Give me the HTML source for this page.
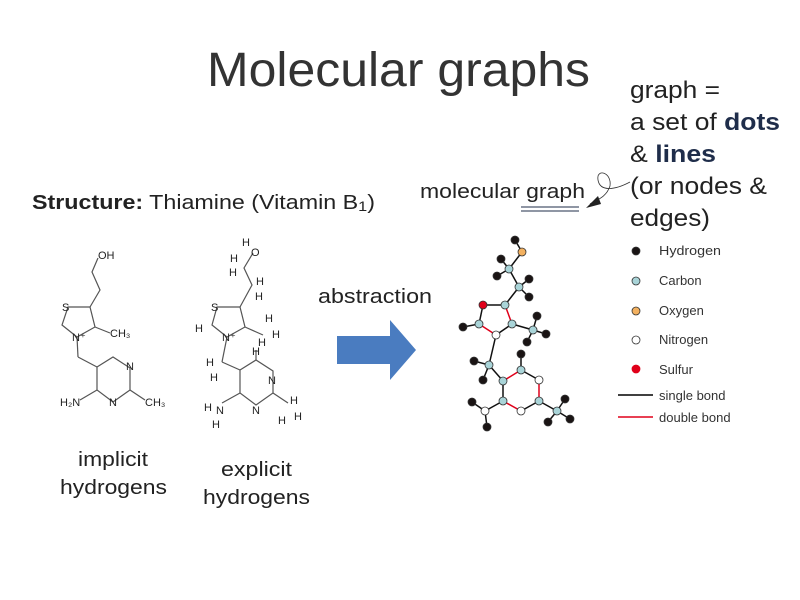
<!DOCTYPE html>
<html><head><style>
body{margin:0;background:#fff;}
svg{display:block;font-family:"Liberation Sans",sans-serif;}
</style></head><body>
<svg width="800" height="600" viewBox="0 0 800 600">
<text x="207" y="86" font-size="48" textLength="383" lengthAdjust="spacingAndGlyphs" fill="#333">Molecular graphs</text>
<g font-size="24" fill="#222">
<text x="630" y="98" textLength="90" lengthAdjust="spacingAndGlyphs">graph =</text>
<text x="630" y="130" textLength="150" lengthAdjust="spacingAndGlyphs">a set of <tspan font-weight="bold" fill="#1f2d4a">dots</tspan></text>
<text x="630" y="162" textLength="86" lengthAdjust="spacingAndGlyphs">&amp; <tspan font-weight="bold" fill="#1f2d4a">lines</tspan></text>
<text x="630" y="194" textLength="137" lengthAdjust="spacingAndGlyphs">(or nodes &amp;</text>
<text x="630" y="226" textLength="80" lengthAdjust="spacingAndGlyphs">edges)</text>
</g>
<text x="32" y="209" font-size="20" fill="#222" textLength="343" lengthAdjust="spacingAndGlyphs"><tspan font-weight="bold">Structure:</tspan> Thiamine (Vitamin B<tspan font-size="14" dy="2">1</tspan><tspan dy="-2">)</tspan></text>
<text x="420" y="198" font-size="20" fill="#222" textLength="165" lengthAdjust="spacingAndGlyphs">molecular graph</text>
<line x1="521" y1="207" x2="579" y2="207" stroke="#1f2d4a" stroke-width="1"/>
<line x1="521" y1="211" x2="579" y2="211" stroke="#1f2d4a" stroke-width="1"/>
<path d="M630 182 C615 190 600 192 598 180 C596 168 612 172 610 186 C606 198 596 200 590 204" fill="none" stroke="#333" stroke-width="0.8"/>
<polygon points="586,208 598,196 601,204" fill="#222"/>
<text x="318" y="303" font-size="20" fill="#222" textLength="114" lengthAdjust="spacingAndGlyphs">abstraction</text>
<polygon points="337,336 390,336 390,320 416,350 390,380 390,364 337,364" fill="#4a7cc0"/>
<g font-size="20" fill="#222">
<text x="78" y="466" textLength="70" lengthAdjust="spacingAndGlyphs">implicit</text><text x="60" y="494" textLength="107" lengthAdjust="spacingAndGlyphs">hydrogens</text>
<text x="221" y="476" textLength="71" lengthAdjust="spacingAndGlyphs">explicit</text><text x="203" y="504" textLength="107" lengthAdjust="spacingAndGlyphs">hydrogens</text>
</g>
<!-- implicit structure -->
<g stroke="#555" stroke-width="1.2" fill="none">
<polyline points="98,258 92,272 100,290 90,307"/>
<polygon points="68,307 90,307 95,327 77,337 62,325"/>
<line x1="95" y1="327" x2="110" y2="333"/>
<line x1="77" y1="337" x2="78" y2="357"/>
<line x1="78" y1="357" x2="97" y2="367"/>
<polygon points="97,367 113,357 130,368 130,390 113,402 97,390"/>
<line x1="97" y1="390" x2="80" y2="400"/>
<line x1="130" y1="390" x2="145" y2="400"/>
</g>
<g font-size="11" fill="#222">
<text x="98" y="259">OH</text><text x="62" y="311">S</text><text x="110" y="337">CH₃</text>
<text x="72" y="341">N⁺</text><text x="126" y="370">N</text><text x="109" y="406">N</text>
<text x="60" y="406">H₂N</text><text x="145" y="406">CH₃</text>
</g>
<!-- explicit structure -->
<g stroke="#555" stroke-width="1.2" fill="none">
<polyline points="253,253 244,268 252,285 240,307"/>
<polygon points="217,307 240,307 245,327 227,337 212,325"/>
<line x1="245" y1="327" x2="263" y2="335"/>
<line x1="227" y1="337" x2="222" y2="362"/>
<line x1="222" y1="362" x2="240" y2="370"/>
<polygon points="240,370 256,360 273,371 273,393 256,405 240,393"/>
<line x1="240" y1="393" x2="222" y2="403"/>
<line x1="273" y1="393" x2="288" y2="403"/>
<line x1="256" y1="360" x2="256" y2="350"/>
</g>
<g font-size="11" fill="#222">
<text x="242" y="246">H</text><text x="251" y="256">O</text><text x="230" y="262">H</text><text x="229" y="276">H</text>
<text x="256" y="285">H</text><text x="255" y="300">H</text><text x="211" y="311">S</text>
<text x="195" y="332">H</text><text x="222" y="341">N⁺</text><text x="265" y="322">H</text><text x="272" y="338">H</text><text x="258" y="346">H</text>
<text x="206" y="366">H</text><text x="210" y="381">H</text><text x="252" y="355">H</text>
<text x="268" y="384">N</text><text x="252" y="414">N</text><text x="204" y="411">H</text><text x="216" y="414">N</text><text x="212" y="428">H</text>
<text x="290" y="404">H</text><text x="294" y="420">H</text><text x="278" y="424">H</text>
</g>
<!-- molecular graph -->
<g stroke="#111" stroke-width="1.5">
<line x1="515" y1="240" x2="522" y2="252"/><line x1="522" y1="252" x2="509" y2="269"/>
<line x1="509" y1="269" x2="501" y2="259"/><line x1="509" y1="269" x2="497" y2="276"/>
<line x1="509" y1="269" x2="519" y2="287"/><line x1="519" y1="287" x2="529" y2="279"/><line x1="519" y1="287" x2="529" y2="297"/>
<line x1="519" y1="287" x2="505" y2="305"/><line x1="483" y1="305" x2="505" y2="305"/>
<line x1="483" y1="305" x2="479" y2="324"/><line x1="479" y1="324" x2="463" y2="327"/>
<line x1="512" y1="324" x2="496" y2="335"/><line x1="512" y1="324" x2="533" y2="330"/>
<line x1="533" y1="330" x2="537" y2="316"/><line x1="533" y1="330" x2="546" y2="334"/><line x1="533" y1="330" x2="527" y2="342"/>
<line x1="496" y1="335" x2="489" y2="365"/><line x1="489" y1="365" x2="474" y2="361"/><line x1="489" y1="365" x2="483" y2="380"/>
<line x1="489" y1="365" x2="503" y2="381"/><line x1="503" y1="381" x2="503" y2="401"/>
<line x1="521" y1="370" x2="539" y2="380"/><line x1="521" y1="370" x2="521" y2="354"/>
<line x1="539" y1="401" x2="521" y2="411"/><line x1="539" y1="401" x2="557" y2="411"/>
<line x1="557" y1="411" x2="565" y2="399"/><line x1="557" y1="411" x2="570" y2="419"/><line x1="557" y1="411" x2="548" y2="422"/>
<line x1="503" y1="401" x2="485" y2="411"/><line x1="485" y1="411" x2="472" y2="402"/><line x1="485" y1="411" x2="487" y2="427"/>
</g>
<g stroke="#e0001a" stroke-width="1.5">
<line x1="505" y1="305" x2="512" y2="324"/><line x1="479" y1="324" x2="496" y2="335"/>
<line x1="503" y1="381" x2="521" y2="370"/><line x1="539" y1="380" x2="539" y2="401"/>
<line x1="503" y1="401" x2="521" y2="411"/>
</g>
<g stroke="#333" stroke-width="0.8">
<g fill="#1a1414">
<circle cx="515" cy="240" r="4"/><circle cx="501" cy="259" r="4"/><circle cx="497" cy="276" r="4"/>
<circle cx="529" cy="279" r="4"/><circle cx="529" cy="297" r="4"/><circle cx="463" cy="327" r="4"/>
<circle cx="537" cy="316" r="4"/><circle cx="546" cy="334" r="4"/><circle cx="527" cy="342" r="4"/>
<circle cx="474" cy="361" r="4"/><circle cx="483" cy="380" r="4"/><circle cx="521" cy="354" r="4"/>
<circle cx="565" cy="399" r="4"/><circle cx="570" cy="419" r="4"/><circle cx="548" cy="422" r="4"/>
<circle cx="472" cy="402" r="4"/><circle cx="487" cy="427" r="4"/>
</g>
<g fill="#a9d4d8">
<circle cx="509" cy="269" r="4"/><circle cx="519" cy="287" r="4"/><circle cx="505" cy="305" r="4"/>
<circle cx="479" cy="324" r="4"/><circle cx="512" cy="324" r="4"/><circle cx="533" cy="330" r="4"/>
<circle cx="489" cy="365" r="4"/><circle cx="503" cy="381" r="4"/><circle cx="521" cy="370" r="4"/>
<circle cx="539" cy="401" r="4"/><circle cx="503" cy="401" r="4"/><circle cx="557" cy="411" r="4"/>
</g>
<circle cx="522" cy="252" r="4" fill="#f3b160"/>
<circle cx="483" cy="305" r="4" fill="#e0001a"/>
<g fill="#fff"><circle cx="496" cy="335" r="4"/><circle cx="539" cy="380" r="4"/><circle cx="521" cy="411" r="4"/><circle cx="485" cy="411" r="4"/></g>
</g>
<!-- legend -->
<g stroke="#333" stroke-width="0.8">
<circle cx="636" cy="251" r="4" fill="#1a1414"/>
<circle cx="636" cy="281" r="4" fill="#a9d4d8"/>
<circle cx="636" cy="311" r="4" fill="#f3b160"/>
<circle cx="636" cy="340" r="4" fill="#fff"/>
<circle cx="636" cy="369" r="4" fill="#e0001a" stroke="#e0001a"/>
</g>
<g font-size="13" fill="#333">
<text x="659" y="255" textLength="62" lengthAdjust="spacingAndGlyphs">Hydrogen</text><text x="659" y="285">Carbon</text><text x="659" y="315">Oxygen</text>
<text x="659" y="344">Nitrogen</text><text x="659" y="374">Sulfur</text>
<text x="659" y="400">single bond</text><text x="659" y="422">double bond</text>
</g>
<line x1="618" y1="395" x2="653" y2="395" stroke="#000" stroke-width="1.5"/>
<line x1="618" y1="417" x2="653" y2="417" stroke="#e0001a" stroke-width="1.5"/>
</svg>
</body></html>
